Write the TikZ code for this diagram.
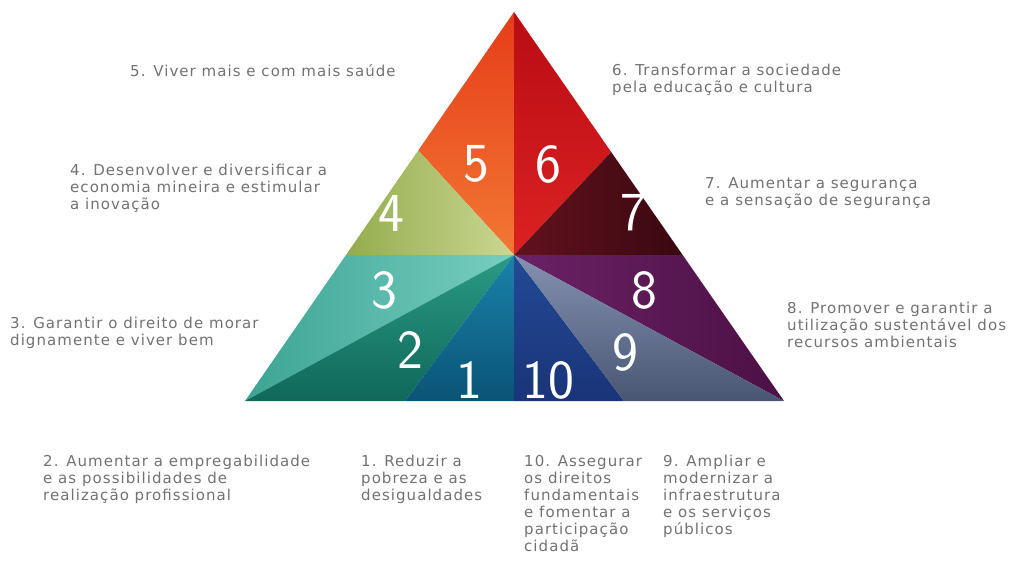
\documentclass[tikz,border=0pt]{standalone}
\usepackage{fontspec}
\newfontfamily\labfont{DejaVu Sans}[LetterSpace=7]
\usetikzlibrary{calc}
\definecolor{labgray}{HTML}{727272}
\definecolor{cFiveA}{HTML}{E63C18}
\definecolor{cFiveB}{HTML}{F27834}
\definecolor{cSixA}{HTML}{B80C14}
\definecolor{cSixB}{HTML}{DC2222}
\definecolor{cFourA}{HTML}{94AC4C}
\definecolor{cFourB}{HTML}{CAD792}
\definecolor{cSevenA}{HTML}{3A0810}
\definecolor{cSevenB}{HTML}{62121E}
\definecolor{cThreeA}{HTML}{3CA494}
\definecolor{cThreeB}{HTML}{78CEC0}
\definecolor{cEightA}{HTML}{4C1044}
\definecolor{cEightB}{HTML}{6A2266}
\definecolor{cTwoA}{HTML}{10685A}
\definecolor{cTwoB}{HTML}{2A9A84}
\definecolor{cOneA}{HTML}{0A5476}
\definecolor{cOneB}{HTML}{1A82AA}
\definecolor{cTenA}{HTML}{1A3478}
\definecolor{cTenB}{HTML}{234A96}
\definecolor{cNineA}{HTML}{485674}
\definecolor{cNineB}{HTML}{8491B0}
\begin{document}
\begin{tikzpicture}[x=1pt,y=-1pt,
  lab/.style={anchor=north west, align=left, inner sep=0pt, text=labgray,
    font=\labfont\fontsize{15}{17}\selectfont},
  num/.style={inner sep=0pt, text=white, font=\sffamily\fontsize{55}{55}\selectfont},
  region/.style={draw=none}]
\useasboundingbox[fill=white] (0,0) rectangle (1009,567);
% key points
\coordinate (A) at (514,12);
\coordinate (O) at (514,255);
\coordinate (L) at (245,401);
\coordinate (R) at (784,401);
\coordinate (P45) at ($(A)!0.356!(L)$);
\coordinate (P34) at ($(A)!0.625!(L)$);
\coordinate (P67) at ($(A)!0.360!(R)$);
\coordinate (P78) at ($(A)!0.625!(R)$);
\coordinate (B21) at (405,401);
\coordinate (B110) at (514,401);
\coordinate (B109) at (624,401);
% regions
\shade[region, top color=cFiveA, bottom color=cFiveB] (O) -- (A) -- (P45) -- cycle;
\shade[region, top color=cSixA, bottom color=cSixB] (O) -- (A) -- (P67) -- cycle;
\shade[region, left color=cFourA, right color=cFourB] (O) -- (P45) -- (P34) -- cycle;
\shade[region, left color=cSevenB, right color=cSevenA] (O) -- (P67) -- (P78) -- cycle;
\shade[region, left color=cThreeA, right color=cThreeB] (O) -- (P34) -- (L) -- cycle;
\shade[region, left color=cEightB, right color=cEightA] (O) -- (P78) -- (R) -- cycle;
\shade[region, bottom color=cTwoA, top color=cTwoB] (O) -- (L) -- (B21) -- cycle;
\shade[region, bottom color=cOneA, top color=cOneB] (O) -- (B21) -- (B110) -- cycle;
\shade[region, bottom color=cTenA, top color=cTenB] (O) -- (B110) -- (B109) -- cycle;
\shade[region, bottom color=cNineA, top color=cNineB] (O) -- (B109) -- (R) -- cycle;
% numbers
\node[num] (n5) at (476,164) {5};
\node[num] (n6) at (548,164) {6};
\node[num] (n4) at (391,213) {4};
\node[num] (n7) at (633,213) {7};
\node[num] (n3) at (384,290) {3};
\node[num] (n8) at (644,290) {8};
\node[num] (n2) at (410,350) {2};
\node[num] (n9) at (625,352) {9};
\node[num] (n1) at (469,380) {1};
\node[num] (n10) at (548,380) {10};
% labels
\node[lab] (t5) at (130,64) {5. Viver mais e com mais saúde};
\node[lab] (t6) at (612,64) {6. Transformar a sociedade\\pela educação e cultura};
\node[lab] (t4) at (70,164) {4. Desenvolver e diversificar a\\economia mineira e estimular\\a inovação};
\node[lab] (t7) at (705,177) {7. Aumentar a segurança\\e a sensação de segurança};
\node[lab] (t3) at (10,317) {3. Garantir o direito de morar\\dignamente e viver bem};
\node[lab] (t8) at (787,302) {8. Promover e garantir a\\utilização sustentável dos\\recursos ambientais};
\node[lab] (t2) at (43,455) {2. Aumentar a empregabilidade\\e as possibilidades de\\realização profissional};
\node[lab] (t1) at (361,455) {1. Reduzir a\\pobreza e as\\desigualdades};
\node[lab] (t10) at (524,455) {10. Assegurar\\os direitos\\fundamentais\\e fomentar a\\participação\\cidadã};
\node[lab] (t9) at (663,455) {9. Ampliar e\\modernizar a\\infraestrutura\\e os serviços\\públicos};
\end{tikzpicture}
\end{document}
